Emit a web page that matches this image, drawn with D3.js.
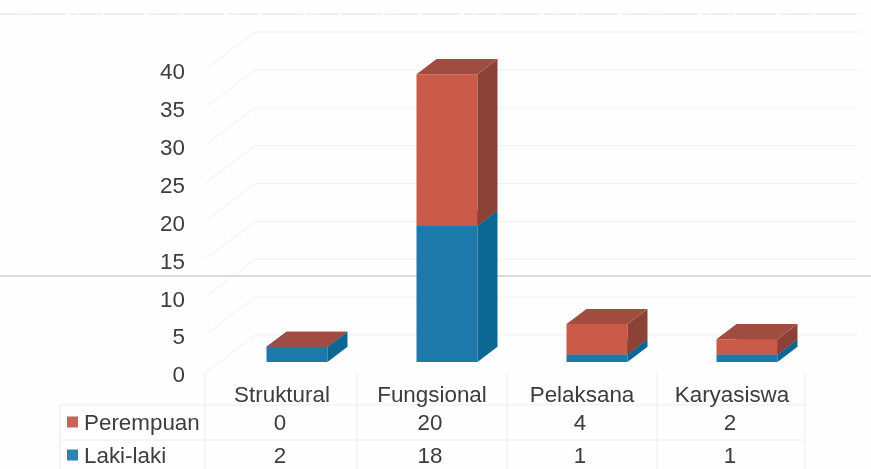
<!DOCTYPE html>
<html>
<head>
<meta charset="utf-8">
<script src="https://cdnjs.cloudflare.com/ajax/libs/d3/7.8.5/d3.min.js"></script>
<style>
  html, body { margin: 0; padding: 0; background: #fefefe; overflow: hidden; }
  svg { display: block; filter: blur(0.5px); }
  text { font-family: "Liberation Sans", Arial, sans-serif; font-size: 22.4px; fill: #3c3c3c; }
</style>
</head>
<body>
<svg id="chart" width="871" height="469"></svg>
<script>
const categories = ['Struktural', 'Fungsional', 'Pelaksana', 'Karyasiswa'];
const lakiLaki = [2, 18, 1, 1];
const perempuan = [0, 20, 4, 2];
const yTicks = [0, 5, 10, 15, 20, 25, 30, 35, 40];
const seriesNames = ['Perempuan', 'Laki-laki'];

const svg = d3.select('#chart');

// oblique offset of the back wall from the front plane
const depth = { dx: 50, dy: -38 };
const barStart = 0.29, barDepth = 0.4;
const barWidth = 61, barNudge = 2.5;

const x = d3.scaleBand().domain(categories).range([205, 805]);
const y = d3.scaleLinear().domain([0, 40]).range([373, 70]);

const colors = {
  red: { front: '#c95b48', side: '#8d4238', top: '#a04c41', key: '#c9625a' },
  blue: { front: '#1c79aa', side: '#0c6795', top: '#1a6f9f', key: '#2c84b4' }
};
const gridColor = '#f0f0ee';

// walls
const grid = svg.append('g').attr('fill', 'none').attr('stroke', gridColor).attr('stroke-width', 1);
yTicks.forEach(t => {
  grid.append('path').attr('d', d3.line()([
    [205, y(t)],
    [205 + depth.dx, y(t) + depth.dy],
    [858, y(t) + depth.dy]
  ]));
});

// scan marks: dotted line at the top and the paper fold
svg.append('line').attr('x1', 0).attr('x2', 860).attr('y1', 14).attr('y2', 14)
  .attr('stroke', '#e2e2e0').attr('stroke-dasharray', '23 2 41 3 9 1');
svg.append('line').attr('x1', 0).attr('x2', 871).attr('y1', 276).attr('y2', 276)
  .attr('stroke', '#b4b4b2');

// y axis
const yAxis = svg.append('g').attr('transform', 'translate(188,1)')
  .call(d3.axisLeft(y).tickValues(yTicks).tickSize(0).tickPadding(3));
yAxis.select('.domain').remove();
yAxis.selectAll('text').attr('dy', '.35em').style('font-size', '22.4px');

// 3d stacked bars
function drawBox(g, cat, v0, v1, c) {
  const cx = x(cat) + x.bandwidth() / 2;
  const x0 = cx - barWidth / 2 + barStart * depth.dx + barNudge;
  const x1 = x0 + barWidth;
  const yb = y(v0) + barStart * depth.dy;
  const yt = y(v1) + barStart * depth.dy;
  const ox = barDepth * depth.dx, oy = barDepth * depth.dy;
  const path = d3.line();
  g.append('path').attr('fill', c.front).attr('d', path([[x0, yb], [x1, yb], [x1, yt], [x0, yt]]) + 'Z');
  g.append('path').attr('fill', c.side).attr('d', path([[x1, yb], [x1 + ox, yb + oy], [x1 + ox, yt + oy], [x1, yt]]) + 'Z');
  g.append('path').attr('fill', c.top).attr('d', path([[x0, yt], [x1, yt], [x1 + ox, yt + oy], [x0 + ox, yt + oy]]) + 'Z');
}

const bars = svg.append('g');
categories.forEach((cat, i) => {
  drawBox(bars, cat, 0, lakiLaki[i], colors.blue);
  drawBox(bars, cat, lakiLaki[i], lakiLaki[i] + perempuan[i], colors.red);
});

// data table
const tableTop = 405, rowH = 35, tableLeft = 60;
const table = svg.append('g').attr('stroke', '#ececea').attr('fill', 'none');
[tableTop, tableTop + rowH].forEach(ly => {
  table.append('line').attr('x1', tableLeft).attr('x2', 805).attr('y1', ly).attr('y2', ly);
});
table.append('line').attr('x1', tableLeft).attr('x2', tableLeft).attr('y1', tableTop).attr('y2', 469);
[205, 357, 507, 657, 805].forEach(lx => {
  table.append('line').attr('x1', lx).attr('x2', lx).attr('y1', 373).attr('y2', 469);
});

const xAxis = svg.append('g').attr('transform', 'translate(2,394)')
  .call(d3.axisBottom(x).tickSize(0).tickPadding(0));
xAxis.select('.domain').remove();
xAxis.selectAll('text').attr('y', 0).attr('dy', '.35em').style('font-size', '22.4px');

const rows = [
  { name: seriesNames[0], values: perempuan, color: colors.red.key, cy: 422 },
  { name: seriesNames[1], values: lakiLaki, color: colors.blue.key, cy: 455 }
];
rows.forEach(r => {
  svg.append('rect').attr('x', 67).attr('y', r.cy - 5.5).attr('width', 11).attr('height', 11).attr('fill', r.color);
  svg.append('text').attr('x', 84).attr('y', r.cy).attr('dy', '.35em').text(r.name);
  svg.selectAll(null).data(r.values).enter().append('text')
    .attr('x', (d, i) => x(categories[i]) + x.bandwidth() / 2)
    .attr('y', r.cy).attr('dy', '.35em').attr('text-anchor', 'middle')
    .text(d => d);
});
</script>
</body>
</html>
